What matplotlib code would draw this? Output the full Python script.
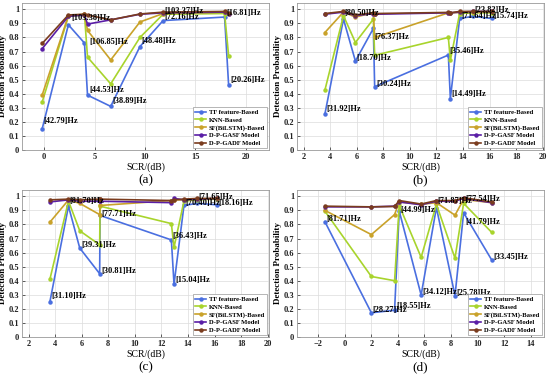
import matplotlib
matplotlib.use("Agg")
import matplotlib.pyplot as plt

plt.rcParams['font.family'] = ['Liberation Serif', 'DejaVu Serif']
plt.rcParams['font.weight'] = 'bold'

methods = ["TF feature-Based", "KNN-Based", "SF(BiLSTM)-Based", "D-P-GASF Model", "D-P-GADF Model"]
colors = ["#4a6fe0", "#a8d42c", "#c9a22a", "#5a1ea6", "#7a3c1e"]

# Panel (a)
xa = [-0.2, 2.4, 4.0, 4.3, 6.6, 9.5, 11.8, 17.9, 18.3]
tf_a = [0.15, 0.89, 0.76, 0.39, 0.31, 0.735, 0.92, 0.945, 0.46]
knn_a = [0.34, 0.95, 0.96, 0.66, 0.47, 0.80, 0.965, 0.97, 0.67]
sf_a = [0.39, 0.955, 0.965, 0.85, 0.64, 0.91, 0.97, 0.98, 0.97]
gasf_a = [0.72, 0.95, 0.96, 0.895, 0.925, 0.965, 0.975, 0.98, 0.97]
gadf_a = [0.757, 0.96, 0.965, 0.96, 0.925, 0.967, 0.98, 0.985, 0.975]

# Panel (b)
xb = [3.6, 5.0, 5.9, 7.25, 7.35, 12.9, 13.05, 13.75, 14.75, 16.15]
tf_b = [0.255, 0.93, 0.632, 0.864, 0.45, 0.675, 0.365, 0.935, 0.95, 0.935]
knn_b = [0.425, 0.955, 0.764, 0.93, 0.673, 0.80, 0.637, 0.97, 0.975, 0.975]
sf_b = [0.835, 0.98, 0.945, 0.975, 0.80, 0.975, 0.975, 0.978, 0.98, 0.98]
gasf_b = [0.965, 0.98, 0.955, 0.97, 0.965, 0.975, 0.975, 0.98, 0.985, 0.985]
gadf_b = [0.97, 0.985, 0.96, 0.975, 0.97, 0.978, 0.975, 0.985, 0.985, 0.985]

# Panel (c)
xc = [3.6, 5.0, 5.85, 7.35, 7.38, 12.75, 12.95, 13.7, 14.7, 16.15]
tf_c = [0.25, 0.93, 0.632, 0.45, 0.864, 0.69, 0.375, 0.935, 0.95, 0.94]
knn_c = [0.41, 0.966, 0.755, 0.655, 0.93, 0.806, 0.637, 0.966, 0.975, 0.98]
sf_c = [0.816, 0.974, 0.95, 0.87, 0.935, 0.97, 0.975, 0.975, 0.98, 0.985]
gasf_c = [0.96, 0.975, 0.965, 0.965, 0.965, 0.955, 0.985, 0.975, 0.98, 0.985]
gadf_c = [0.975, 0.98, 0.975, 0.98, 0.98, 0.97, 0.975, 0.98, 0.985, 0.985]

# Panel (d)
xd = [-1.5, 2.0, 3.75, 4.1, 5.75, 6.9, 8.3, 8.95, 11.05]
tf_d = [0.82, 0.172, 0.19, 0.895, 0.298, 0.92, 0.294, 0.883, 0.55]
knn_d = [0.895, 0.43, 0.40, 0.935, 0.566, 0.943, 0.56, 0.95, 0.745]
sf_d = [0.90, 0.728, 0.87, 0.96, 0.943, 0.955, 0.866, 0.978, 0.955]
gasf_d = [0.925, 0.925, 0.93, 0.96, 0.94, 0.965, 0.965, 0.985, 0.955]
gadf_d = [0.93, 0.925, 0.928, 0.97, 0.945, 0.97, 0.97, 0.99, 0.96]

# annotation labels: (series index, point index, text)
labels_a = [(0, 0, "[42.79]Hz"), (4, 1, "[103.38]Hz"), (2, 3, "[106.85]Hz"),
            (0, 3, "[44.53]Hz"), (0, 4, "[38.89]Hz"), (0, 5, "[48.48]Hz"),
            (4, 6, "[103.37]Hz"), (1, 6, "[72.16]Hz"), (4, 7, "[16.81]Hz"), (0, 8, "[20.26]Hz")]
labels_b = [(0, 0, "[31.92]Hz"), (4, 1, "[80.50]Hz"), (0, 2, "[18.70]Hz"), (0, 3, "[76.37]Hz"),
            (0, 4, "[30.24]Hz"), (0, 5, "[35.46]Hz"), (0, 6, "[14.49]Hz"), (4, 7, "[71.64]Hz"),
            (4, 8, "[23.82]Hz"), (4, 9, "[15.74]Hz")]
labels_c = [(0, 0, "[31.10]Hz"), (4, 1, "[81.70]Hz"), (0, 2, "[39.31]Hz"), (2, 4, "[77.71]Hz"),
            (0, 3, "[30.81]Hz"), (0, 5, "[36.43]Hz"), (0, 6, "[15.04]Hz"), (4, 7, "[70.40]Hz"),
            (4, 8, "[71.65]Hz"), (4, 9, "[18.16]Hz")]
labels_d = [(1, 0, "[81.71]Hz"), (0, 1, "[28.27]Hz"), (0, 2, "[18.55]Hz"), (4, 3, "[44.99]Hz"),
            (0, 4, "[34.12]Hz"), (4, 5, "[71.87]Hz"), (0, 6, "[25.78]Hz"), (4, 7, "[77.54]Hz"),
            (0, 7, "[41.79]Hz"), (0, 8, "[33.45]Hz")]

# text offsets (points) for each label, style only
off_a = [(1, 6), (2, -2), (1, -8), (1, 4), (1, 4), (1, 4), (1, 1), (1, -2), (1, -1), (1, 4)]
off_b = [(1, 4), (1, -1), (1, 2), (1, -6), (1, 2), (1, 3), (1, 3), (1, -3), (1, 1), (1, -3)]
off_c = [(1, 4), (1, -1), (1, 2), (1, -6), (1, 2), (1, 3), (1, 3), (1, -3), (1, 1), (1, -3)]
off_d = [(1, -6), (1, 2), (1, 3), (1, -7), (1, 2), (1, 0), (1, 2), (1, -1), (1, -7), (1, 2)]

panels = [
    ("(a)", xa, [tf_a, knn_a, sf_a, gasf_a, gadf_a], labels_a, off_a, (-2.2, 22.3), [0, 5, 10, 15, 20]),
    ("(b)", xb, [tf_b, knn_b, sf_b, gasf_b, gadf_b], labels_b, off_b, (1.5, 20.1), list(range(2, 21, 2))),
    ("(c)", xc, [tf_c, knn_c, sf_c, gasf_c, gadf_c], labels_c, off_c, (1.5, 20.1), list(range(2, 21, 2))),
    ("(d)", xd, [tf_d, knn_d, sf_d, gasf_d, gadf_d], labels_d, off_d, (-3.6, 15.0), list(range(-2, 15, 2))),
]

fig = plt.figure(figsize=(5.5, 3.74), dpi=100)
positions = [(0.040, 0.599, 0.449, 0.393), (0.540, 0.599, 0.449, 0.393),
             (0.040, 0.099, 0.449, 0.393), (0.540, 0.099, 0.449, 0.393)]

for (cap, xs, series, labels, offs, xlim, xt), pos in zip(panels, positions):
    ax = fig.add_axes(pos)
    for name, ys, c in zip(methods, series, colors):
        ax.plot(xs, ys, color=c, lw=1.2, marker='o', ms=2.2, label=name, zorder=3)
    for (si, pi, txt), (dx, dy) in zip(labels, offs):
        ax.annotate(txt, xy=(xs[pi], series[si][pi]), xytext=(dx, dy), textcoords='offset points',
                    fontsize=6, fontweight='bold', ha='left', va='center', zorder=5)
    ax.set_xlim(*xlim)
    ax.set_ylim(0, 1.045)
    ax.set_xticks(xt)
    ax.set_yticks([i / 10 for i in range(11)])
    ax.set_yticklabels(["0"] + [f"0.{i}" for i in range(1, 10)] + ["1"])
    ax.tick_params(labelsize=6, direction='in', length=2, width=0.5, colors='#222222', pad=2)
    for lab in ax.get_xticklabels() + ax.get_yticklabels():
        lab.set_fontweight('bold')
    ax.grid(True, color='#dcdcdc', lw=0.5)
    ax.set_axisbelow(True)
    for s in ax.spines.values():
        s.set_color('#999999')
        s.set_linewidth(0.6)
    ax.set_ylabel("Detection Probability", fontsize=6.5, fontweight='bold', labelpad=1)
    ax.set_xlabel("SCR/(dB)", fontsize=7, fontweight='normal', labelpad=1)
    leg = ax.legend(loc='lower right', fontsize=4.8, handlelength=1.6, borderpad=0.35,
                    labelspacing=0.3, handletextpad=0.4, borderaxespad=0.25, framealpha=1,
                    fancybox=False, edgecolor='#999999')
    leg.get_frame().set_linewidth(0.5)
    for t in leg.get_texts():
        t.set_fontweight('bold')
    ax.text(0.5, -0.205, cap, transform=ax.transAxes, ha='center', va='center', fontsize=9.5,
            fontweight='normal')

fig.savefig("out.png", dpi=100)
